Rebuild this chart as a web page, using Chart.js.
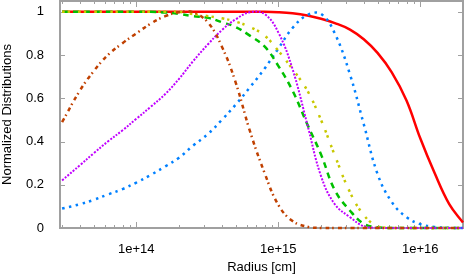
<!DOCTYPE html>
<html lang="en">
<head>
    <meta charset="UTF-8">
    <title>Normalized Distributions</title>
    <script src="https://cdn.jsdelivr.net/npm/chart.js"></script>
    <style>
        body { margin: 0; background: #fff; }
        #wrap { width: 464px; height: 275px; }
    </style>
</head>
<body>
    <div id="wrap">
        <canvas id="distChart" width="464" height="275"></canvas>
    </div>
    <script>
        // Radius grid (cm), about 0.1 decade apart
        const radius = [3e13, 4e13, 5e13, 6.3e13, 8e13, 1e14, 1.26e14, 1.6e14, 2e14, 2.5e14,
            3.2e14, 4e14, 5e14, 6.3e14, 8e14, 1e15, 1.26e15, 1.6e15, 2e15, 2.5e15,
            3.2e15, 4e15, 5e15, 6.3e15, 8e15, 1e16, 1.26e16, 1.6e16, 2e16];

        // Values
        const redSolid = [1, 1, 1, 1, 1, 1, 1, 1, 1, 1,
            1, 1, 1, 1, 1, 0.998, 0.993, 0.983, 0.968, 0.948,
            0.918, 0.873, 0.81, 0.72, 0.59, 0.415, 0.255, 0.11, 0.025];
        const blueDotted = [0.09, 0.11, 0.13, 0.155, 0.18, 0.21, 0.245, 0.285, 0.325, 0.38,
            0.435, 0.50, 0.57, 0.65, 0.737, 0.83, 0.925, 0.985, 0.99, 0.90,
            0.71, 0.48, 0.25, 0.12, 0.05, 0.018, 0.005, 0.001, 0];
        const magentaDotted = [0.22, 0.29, 0.345, 0.40, 0.452, 0.505, 0.56, 0.62, 0.69, 0.77,
            0.85, 0.915, 0.965, 0.998, 0.99, 0.905, 0.735, 0.48, 0.24, 0.11,
            0.05, 0.008, 0.001, 0, 0, 0, 0, 0, 0];
        const greenDashed = [1, 1, 1, 1, 1, 1, 1, 0.997, 0.99, 0.98,
            0.972, 0.952, 0.93, 0.89, 0.84, 0.75, 0.635, 0.48, 0.34, 0.175,
            0.08, 0.02, 0.003, 0, 0, 0, 0, 0, 0];
        const yellowDashDot = [1, 1, 1, 1, 1, 1, 1, 1, 1, 0.99,
            0.98, 0.97, 0.955, 0.93, 0.89, 0.82, 0.735, 0.636, 0.50, 0.336,
            0.165, 0.06, 0.007, 0, 0, 0, 0, 0, 0];
        const brownDashDot = [0.49, 0.635, 0.725, 0.80, 0.855, 0.90, 0.945, 0.98, 0.998, 0.998,
            0.95, 0.84, 0.675, 0.45, 0.255, 0.107, 0.032, 0.006, 0, 0,
            0, 0, 0, 0, 0, 0, 0, 0, 0];

        // Tick values and labels
        const xMajorTicks = [1e14, 1e15, 1e16];
        const xTickLabels = ['1e+14', '1e+15', '1e+16'];
        const yTicks = [0, 0.2, 0.4, 0.6, 0.8, 1];
        const yTickLabels = ['0', '0.2', '0.4', '0.6', '0.8', '1'];

        const xMin = 2.9e13, xMax = 2e16;
        const fontFamily = '"Liberation Sans", Arial, Helvetica, sans-serif';
        const frameColor = '#a0a0a0';

        function pts(vals) {
            return radius.map((r, i) => ({ x: r, y: vals[i] }));
        }

        // Gnuplot-like frame: box + inward ticks on all four sides
        const framePlugin = {
            id: 'frame',
            beforeDatasetsDraw(chart) {
                const ctx = chart.ctx;
                const a = chart.chartArea;
                const xs = chart.scales.x, ys = chart.scales.y;
                ctx.save();
                ctx.strokeStyle = frameColor;
                ctx.lineWidth = 1;
                ctx.beginPath();
                xs.ticks.forEach(t => {
                    const px = Math.round(xs.getPixelForValue(t.value)) + 0.5;
                    const len = xMajorTicks.includes(t.value) ? 6 : 3;
                    ctx.moveTo(px, a.bottom); ctx.lineTo(px, a.bottom - len);
                    ctx.moveTo(px, a.top); ctx.lineTo(px, a.top + len);
                });
                ys.ticks.forEach(t => {
                    const py = Math.round(ys.getPixelForValue(t.value)) + 0.5;
                    ctx.moveTo(a.left, py); ctx.lineTo(a.left + 5, py);
                    ctx.moveTo(a.right, py); ctx.lineTo(a.right - 5, py);
                });
                ctx.stroke();
                ctx.lineWidth = 2;
                ctx.strokeRect(a.left, a.top, a.right - a.left, a.bottom - a.top);
                ctx.restore();
            }
        };

        const lineBase = { pointRadius: 0, fill: false, clip: 4, tension: 0.4 };

        const ctx = document.getElementById('distChart').getContext('2d');
        const chart = new Chart(ctx, {
            type: 'line',
            data: {
                datasets: [
                    { ...lineBase, label: 'brown', data: pts(brownDashDot), borderColor: '#c04000', borderWidth: 2.5, borderDash: [4, 3, 1.5, 4] },
                    { ...lineBase, label: 'magenta', data: pts(magentaDotted), borderColor: '#c000ff', borderWidth: 2, borderDash: [2, 1.5] },
                    { ...lineBase, label: 'yellow', data: pts(yellowDashDot), borderColor: '#c8c800', borderWidth: 2.5, borderDash: [2.5, 3, 2.5, 8] },
                    { ...lineBase, label: 'green', data: pts(greenDashed), borderColor: '#00c000', borderWidth: 2.5, borderDash: [6, 5] },
                    { ...lineBase, label: 'blue', data: pts(blueDotted), borderColor: '#0080ff', borderWidth: 2.5, borderDash: [2.5, 4.5] },
                    { ...lineBase, label: 'red', data: pts(redSolid), borderColor: '#ff0000', borderWidth: 2.5 }
                ]
            },
            options: {
                responsive: false,
                animation: false,
                layout: { padding: { top: 1, right: 1, left: 0, bottom: 0 } },
                plugins: {
                    legend: { display: false },
                    tooltip: { enabled: false }
                },
                scales: {
                    x: {
                        type: 'logarithmic',
                        min: xMin,
                        max: xMax,
                        grid: { display: false },
                        border: { display: false },
                        afterBuildTicks(s) {
                            const t = [];
                            for (let e = 13; e <= 16; e++) {
                                for (let m = 1; m <= 9; m++) {
                                    const v = m * Math.pow(10, e);
                                    if (v >= xMin && v <= xMax) t.push({ value: v });
                                }
                            }
                            s.ticks = t;
                        },
                        afterFit(s) {
                            s.height = 47;
                            s.paddingLeft = 0;
                            s.paddingRight = 0;
                        },
                        ticks: {
                            autoSkip: false,
                            maxRotation: 0,
                            padding: 6,
                            color: '#000',
                            font: { family: fontFamily, size: 13 },
                            callback(v) {
                                const i = xMajorTicks.indexOf(v);
                                return i >= 0 ? xTickLabels[i] : '';
                            }
                        },
                        title: {
                            display: true,
                            text: 'Radius [cm]',
                            color: '#000',
                            font: { family: fontFamily, size: 13 },
                            padding: { top: 0, bottom: 0 }
                        }
                    },
                    y: {
                        min: 0,
                        max: 1.05,
                        grid: { display: false },
                        border: { display: false },
                        afterBuildTicks(s) {
                            s.ticks = yTicks.map(v => ({ value: v }));
                        },
                        afterFit(s) {
                            s.width = 60;
                            s.paddingTop = 0;
                            s.paddingBottom = 0;
                        },
                        ticks: {
                            padding: 8,
                            color: '#000',
                            font: { family: fontFamily, size: 13 },
                            callback(v) {
                                const i = yTicks.indexOf(v);
                                return i >= 0 ? yTickLabels[i] : '';
                            }
                        },
                        title: {
                            display: true,
                            text: 'Normalized Distributions',
                            color: '#000',
                            font: { family: fontFamily, size: 13 },
                            padding: { top: 0, bottom: 0 }
                        }
                    }
                }
            },
            plugins: [framePlugin]
        });
    </script>
</body>
</html>
